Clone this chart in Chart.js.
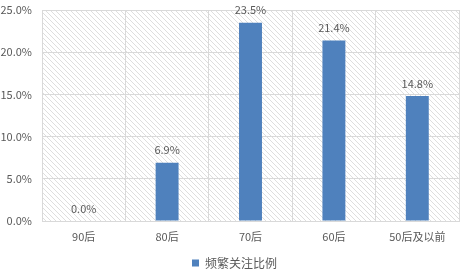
<!DOCTYPE html>
<html>
<head>
<meta charset="utf-8">
<script src="https://cdn.jsdelivr.net/npm/chart.js@4/dist/chart.umd.min.js"></script>
<style>
	html, body { margin: 0; padding: 0; background: #fff; }
	#wrap { width: 461px; height: 279px; }
</style>
</head>
<body>
<div id="wrap"><canvas id="chart" width="461" height="279"></canvas></div>
<script>
const categories = ["90后", "80后", "70后", "60后", "50后及以前"];
const values = [0.0, 6.9, 23.5, 21.4, 14.8];
const seriesName = "频繁关注比例";
const yTicks = [0, 5, 10, 15, 20, 25];

const FONT = "'Noto Sans CJK SC', 'Noto Sans', sans-serif";
const TEXT = "#595959";
const GRID = "#d9d9d9";

// diagonal hatch for the plot area
function makeHatch() {
	const s = 5;
	const c = document.createElement("canvas");
	c.width = s;
	c.height = s;
	const g = c.getContext("2d");
	g.strokeStyle = "#dedede";
	g.lineWidth = 1;
	g.beginPath();
	g.moveTo(0, 0); g.lineTo(s, s);
	g.moveTo(-1, s - 1); g.lineTo(1, s + 1);
	g.moveTo(s - 1, -1); g.lineTo(s + 1, 1);
	g.stroke();
	return g.createPattern(c, "repeat");
}

const hatchPlugin = {
	id: "hatch",
	afterLayout(chart) {
		// legend sits a bit right of the canvas centre in the original
		chart.legend.left += 5;
		chart.legend.right += 5;
	},
	beforeDraw(chart) {
		const a = chart.chartArea;
		const ctx = chart.ctx;
		ctx.save();
		ctx.fillStyle = makeHatch();
		ctx.fillRect(a.left, a.top, a.right - a.left, a.bottom - a.top);
		ctx.restore();
	}
};

const labelPlugin = {
	id: "barLabels",
	afterDatasetsDraw(chart) {
		const ctx = chart.ctx;
		const meta = chart.getDatasetMeta(0);
		ctx.save();
		ctx.font = "11px " + FONT;
		ctx.fillStyle = TEXT;
		ctx.textAlign = "center";
		ctx.textBaseline = "bottom";
		meta.data.forEach((bar, i) => {
			ctx.fillText(values[i].toFixed(1) + "%", bar.x, bar.y - 7);
		});
		ctx.restore();
	}
};

new Chart(document.getElementById("chart"), {
	type: "bar",
	data: {
		labels: categories,
		datasets: [{
			label: seriesName,
			data: values,
			backgroundColor: "#4f81bd",
			barPercentage: 0.55,
			categoryPercentage: 0.5
		}]
	},
	options: {
		responsive: false,
		animation: false,
		layout: { padding: { top: 10, right: 2, left: 0, bottom: 0 } },
		plugins: {
			legend: {
				position: "bottom",
				labels: {
					font: { family: FONT, size: 12 },
					color: TEXT,
					boxWidth: 7,
					boxHeight: 7,
					padding: 8
				}
			},
			tooltip: { enabled: false }
		},
		scales: {
			x: {
				grid: { color: GRID, drawTicks: false },
				border: { color: GRID },
				ticks: { font: { family: FONT, size: 11 }, color: TEXT, padding: 9 },
				afterFit(s) { s.height = 28; }
			},
			y: {
				min: 0,
				max: 25,
				afterBuildTicks(s) { s.ticks = yTicks.map(v => ({ value: v })); },
				grid: { color: GRID, drawTicks: false },
				border: { color: GRID },
				ticks: {
					font: { family: FONT, size: 11 },
					color: TEXT,
					padding: 10,
					callback: v => v.toFixed(1) + "%"
				},
				afterFit(s) {
					s.width = 42;
					s.paddingTop = 0;
					s.paddingBottom = 0;
				}
			}
		}
	},
	plugins: [hatchPlugin, labelPlugin]
});
</script>
</body>
</html>
